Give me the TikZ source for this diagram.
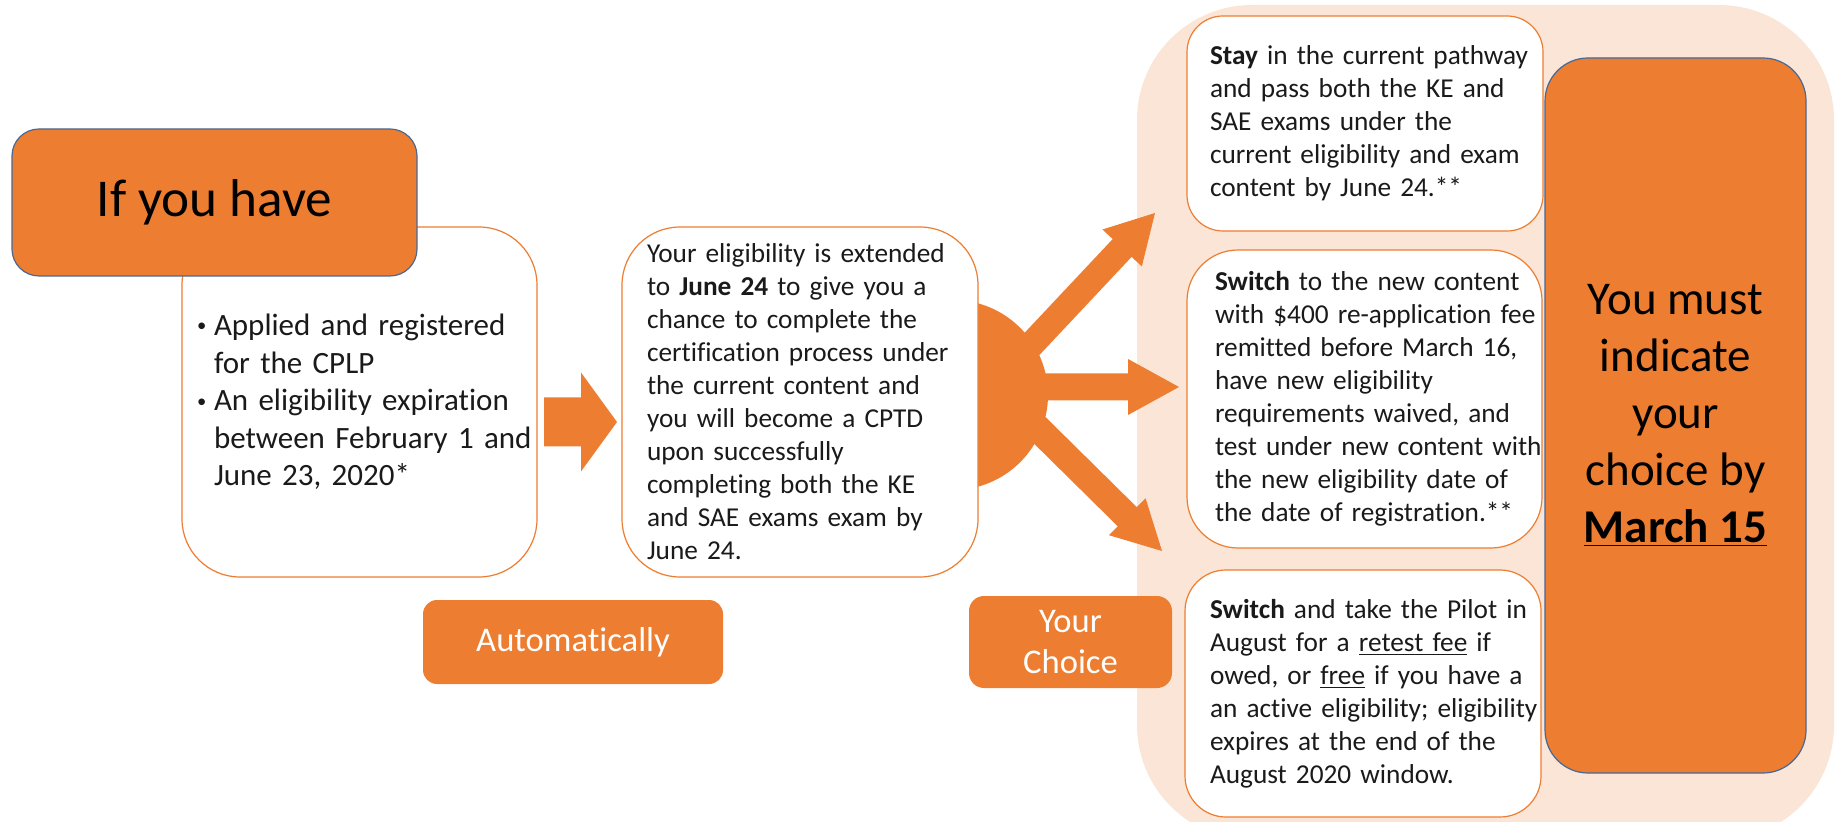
\documentclass[tikz,border=0pt]{standalone}
\usepackage{fontspec}
\setmainfont{Carlito}[Ligatures=NoCommon]
\usepackage{xcolor}
\usepackage{graphicx}
\usetikzlibrary{positioning,calc}
\definecolor{orangefill}{HTML}{ED7D31}
\definecolor{pinkback}{HTML}{FBE5D6}
\definecolor{blueline}{HTML}{4A6894}
\definecolor{inktext}{HTML}{1A1A1A}

\tikzset{
  orangebox/.style={fill=orangefill, draw=blueline, line width=0.6pt, inner sep=0pt, align=center, text=black},
  whitebox/.style={fill=white, draw=orangefill, line width=0.6pt, inner xsep=0pt, inner ysep=0pt, align=left, text=inktext, font=\fontsize{13.65pt}{16.5pt}\selectfont},
  tagbox/.style={fill=orangefill, draw=none, text=white, align=center, inner sep=0pt, font=\fontsize{17.3pt}{20.6pt}\selectfont},
  inset/.style={execute at begin node={\leftskip=#1\relax}}
}

\newcommand{\bul}{\makebox[8.5pt][l]{\raisebox{0.12em}{\scalebox{0.6}{\textbullet}}}}
\newcommand{\ind}{\leavevmode\hspace*{8.5pt}}
% start, tip, shaft half width, head half width, head length
\newcommand{\blockarrow}[5]{%
  \path (#1) coordinate (ba-s) ($(#2)!#5!(#1)$) coordinate (ba-h);
  \fill [orangefill] ($(ba-s)!#3!90:(#2)$) -- ($(ba-h)!#3!90:(#2)$) -- ($(ba-h)!#4!90:(#2)$) -- (#2)
    -- ($(ba-h)!#4!-90:(#2)$) -- ($(ba-h)!#3!-90:(#2)$) -- ($(ba-s)!#3!-90:(#2)$) -- cycle;}

\begin{document}
\begin{tikzpicture}[x=0.5pt, y=-0.5pt]
\useasboundingbox (0,0) rectangle (1839,822);
\clip (0,0) rectangle (1839,822);
\fill [pinkback, rounded corners=57.5pt] (1137,5) rectangle (1834,840);

\node (hub) [circle, fill=orangefill, minimum size=95pt, inner sep=0pt] at (953,395) {};
\coordinate (up0) at (1000,378);
\coordinate (up1) at (1155,213);
\coordinate (mid0) at (1000,387);
\coordinate (mid1) at (1179,387);
\coordinate (down0) at (1006,397);
\coordinate (down1) at (1162,551);
\blockarrow{up0}{up1}{6.5pt}{13.5pt}{24pt}
\blockarrow{mid0}{mid1}{6.75pt}{14pt}{25.5pt}
\blockarrow{down0}{down1}{6.75pt}{13pt}{24.4pt}

\node (applied) [whitebox, text width=177.5pt, minimum height=175pt, rounded corners=29pt, inset=7.5pt,
  font=\fontsize{15.5pt}{18.8pt}\selectfont] at (359.5,402)
  {\bul Applied and registered\\ \ind for the CPLP\\ \bul An eligibility expiration\\
   \ind between February 1 and\\ \ind June 23, 2020*};
\node (have) [orangebox, minimum width=202.5pt, minimum height=73.5pt, rounded corners=13.5pt,
  font=\fontsize{26.6pt}{32pt}\selectfont] at (214.5,202.5) {If you have};

\node (extended) [whitebox, text width=178pt, minimum height=175pt, rounded corners=29pt, inset=12.5pt] at (800,402)
  {Your eligibility is extended\\ to \textbf{June 24} to give you a\\ chance to complete the\\
   certification process under\\ the current content and\\ you will become a CPTD\\
   upon successfully\\ completing both the KE\\ and SAE exams exam by\\ June 24.};

\coordinate (push0) at (544,422);
\coordinate (push1) at (617,422);
\blockarrow{push0}{push1}{12.25pt}{24.75pt}{18pt}

\node (auto) [tagbox, minimum width=150pt, minimum height=42pt, rounded corners=7pt] at (573,642) {Automatically};
\node (choice) [tagbox, minimum width=101.5pt, minimum height=46pt, rounded corners=7.5pt] at (1070.5,642) {Your\\Choice};

\node (stay) [whitebox, text width=178pt, minimum height=107.5pt, rounded corners=18pt, inset=11.5pt] at (1365,123.5)
  {\textbf{Stay} in the current pathway\\ and pass both the KE and\\ SAE exams under the\\
   current eligibility and exam\\ content by June 24.**};
\node (newcontent) [whitebox, text width=177.5pt, minimum height=149pt, rounded corners=25.5pt, inset=14pt] at (1364.5,399)
  {\textbf{Switch} to the new content\\ with \$400 re-application fee\\ remitted before March 16,\\
   have new eligibility\\ requirements waived, and\\ test under new content with\\
   the new eligibility date of\\ the date of registration.**};
\node (pilot) [whitebox, text width=178pt, minimum height=123.5pt, rounded corners=20.5pt, inset=12.5pt] at (1363,693.5)
  {\textbf{Switch} and take the Pilot in\\ August for a \underline{retest fee} if\\
   owed, or \underline{free} if you have a\\ an active eligibility; eligibility\\
   expires at the end of the\\ August 2020 window.};

\node (deadline) [orangebox, minimum width=130.5pt, minimum height=357.5pt, rounded corners=21.5pt,
  font=\fontsize{23.5pt}{28.5pt}\selectfont] at (1675.5,415.5)
  {You must\\ indicate\\ your\\ choice by\\ \textbf{\underline{March 15}}};
\end{tikzpicture}
\end{document}
